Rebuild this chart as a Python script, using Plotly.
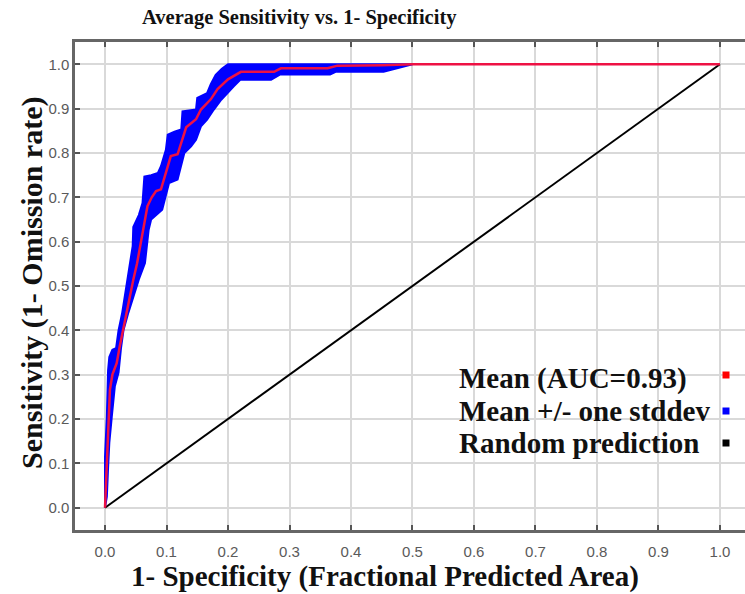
import plotly.graph_objects as go

# ---- data ----
mean_x = [0, 0.003, 0.005, 0.008, 0.012, 0.019, 0.024, 0.029, 0.035, 0.042, 0.046, 0.052,
          0.059, 0.064, 0.069, 0.076, 0.083, 0.091, 0.1, 0.107, 0.118, 0.125, 0.132, 0.148,
          0.156, 0.172, 0.183, 0.2, 0.221, 0.275, 0.286, 0.362, 0.378, 0.45, 0.5, 1.0]
mean_y = [0, 0.10, 0.205, 0.266, 0.30, 0.326, 0.364, 0.40, 0.44, 0.49, 0.514, 0.55,
          0.60, 0.64, 0.68, 0.70, 0.714, 0.718, 0.76, 0.793, 0.797, 0.83, 0.858, 0.876,
          0.898, 0.921, 0.944, 0.966, 0.983, 0.983, 0.991, 0.991, 0.997, 0.998, 1.0, 1.0]

upper_x = [0, 0.0, 0.003, 0.005, 0.007, 0.012, 0.018, 0.022, 0.028, 0.037, 0.045, 0.046,
           0.055, 0.061, 0.064, 0.075, 0.086, 0.091, 0.099, 0.102, 0.113, 0.124, 0.126,
           0.148, 0.15, 0.166, 0.172, 0.18, 0.19, 0.2, 0.5]
upper_y = [0, 0.115, 0.205, 0.31, 0.34, 0.356, 0.36, 0.40, 0.44, 0.514, 0.59, 0.633,
           0.66, 0.687, 0.747, 0.75, 0.755, 0.77, 0.807, 0.841, 0.848, 0.853, 0.894,
           0.898, 0.924, 0.935, 0.955, 0.976, 0.99, 1.0, 1.0]

lower_x = [0, 0.003, 0.005, 0.007, 0.011, 0.016, 0.022, 0.026, 0.030, 0.038, 0.046, 0.055,
           0.065, 0.071, 0.075, 0.084, 0.093, 0.104, 0.118, 0.129, 0.14, 0.148, 0.156,
           0.166, 0.177, 0.189, 0.197, 0.209, 0.22, 0.27, 0.285, 0.366, 0.375, 0.453, 0.5]
lower_y = [0, 0.025, 0.09, 0.146, 0.205, 0.274, 0.305, 0.36, 0.40, 0.44, 0.477, 0.515,
           0.552, 0.627, 0.65, 0.66, 0.672, 0.732, 0.74, 0.8, 0.815, 0.83, 0.86,
           0.875, 0.898, 0.92, 0.931, 0.95, 0.965, 0.965, 0.977, 0.977, 0.983, 0.983, 1.0]

random_x = [0, 1]
random_y = [0, 1]

ticks = [0.0, 0.1, 0.2, 0.3, 0.4, 0.5, 0.6, 0.7, 0.8, 0.9, 1.0]
tick_text = ["0.0", "0.1", "0.2", "0.3", "0.4", "0.5", "0.6", "0.7", "0.8", "0.9", "1.0"]

legend_labels = ["Mean (AUC=0.93)", "Mean +/- one stddev", "Random prediction"]
legend_colors = ["#ff0000", "#0000ff", "#000000"]

title_text = "Average Sensitivity vs. 1- Specificity"
x_title = "1- Specificity (Fractional Predicted Area)"
y_title = "Sensitivity (1- Omission rate)"

# ---- figure ----
W, H = 745, 594
ML, MR, MT, MB = 75, 0, 42, 64
PW, PH = W - ML - MR, H - MT - MB
SERIF = "Liberation Serif, Times New Roman, serif"

fig = go.Figure()

band_x = upper_x + lower_x[::-1]
band_y = upper_y + lower_y[::-1]
fig.add_trace(go.Scatter(x=band_x, y=band_y, mode="lines", fill="toself",
                         fillcolor="#0000ff", line=dict(color="#0000ff", width=2),
                         hoverinfo="skip", showlegend=False))
fig.add_trace(go.Scatter(x=random_x, y=random_y, mode="lines",
                         line=dict(color="#000000", width=2), showlegend=False))
fig.add_trace(go.Scatter(x=mean_x, y=mean_y, mode="lines",
                         line=dict(color="#ee1144", width=2.5), showlegend=False))

axis_common = dict(
    tickvals=ticks, ticktext=tick_text, showgrid=True, gridcolor="#d9d9d9", gridwidth=2,
    zeroline=False, showline=True, linecolor="#666666", linewidth=2.5,
    ticks="inside", ticklen=5, tickwidth=2, tickcolor="#555555",
    tickfont=dict(family="Liberation Sans, Arial, sans-serif", size=15, color="#5a5a5a"),
)

fig.update_xaxes(range=[-0.0488, 1.0407], mirror="ticks", ticklabelstandoff=6,
                 **axis_common)
fig.update_yaxes(range=[-0.0503, 1.0503], mirror=False, **axis_common)

annotations = [
    dict(text="<b>" + title_text + "</b>", xref="paper", yref="paper",
         x=(299 - ML) / PW, y=1 + (MT - 18) / PH,
         xanchor="center", yanchor="middle", showarrow=False,
         font=dict(family=SERIF, size=20.5, color="#111111")),
    dict(text="<b>" + x_title + "</b>", xref="paper", yref="paper",
         x=(385 - ML) / PW, y=-(576 - (H - MB)) / PH,
         xanchor="center", yanchor="middle", showarrow=False,
         font=dict(family=SERIF, size=29, color="#111111")),
    dict(text="<b>" + y_title + "</b>", xref="paper", yref="paper",
         x=-(ML - 32) / PW, y=((H - MB) - 283) / PH,
         xanchor="center", yanchor="middle", showarrow=False, textangle=-90,
         font=dict(family=SERIF, size=30, color="#111111")),
]

shapes = []
leg_text_y = [378, 411, 443]
leg_sq_y = [375, 411, 443]
for lab, col, ty, sy in zip(legend_labels, legend_colors, leg_text_y, leg_sq_y):
    annotations.append(dict(
        text="<b>" + lab + "</b>", xref="paper", yref="paper",
        x=(457 - ML) / PW, y=((H - MB) - ty) / PH,
        xanchor="left", yanchor="middle", showarrow=False,
        font=dict(family=SERIF, size=29, color="#111111")))
    cx = (726 - ML) / PW
    cy = ((H - MB) - sy) / PH
    dx = 3.5 / PW
    dy = 3.5 / PH
    shapes.append(dict(type="rect", xref="paper", yref="paper",
                       x0=cx - dx, x1=cx + dx, y0=cy - dy, y1=cy + dy,
                       fillcolor=col, line=dict(width=0)))

fig.update_layout(
    width=W, height=H, margin=dict(l=ML, r=MR, t=MT, b=MB),
    paper_bgcolor="white", plot_bgcolor="white",
    annotations=annotations, shapes=shapes, showlegend=False,
)

fig.write_html("out.html", config={"displayModeBar": False},
               post_script="document.body.style.margin='0';")
